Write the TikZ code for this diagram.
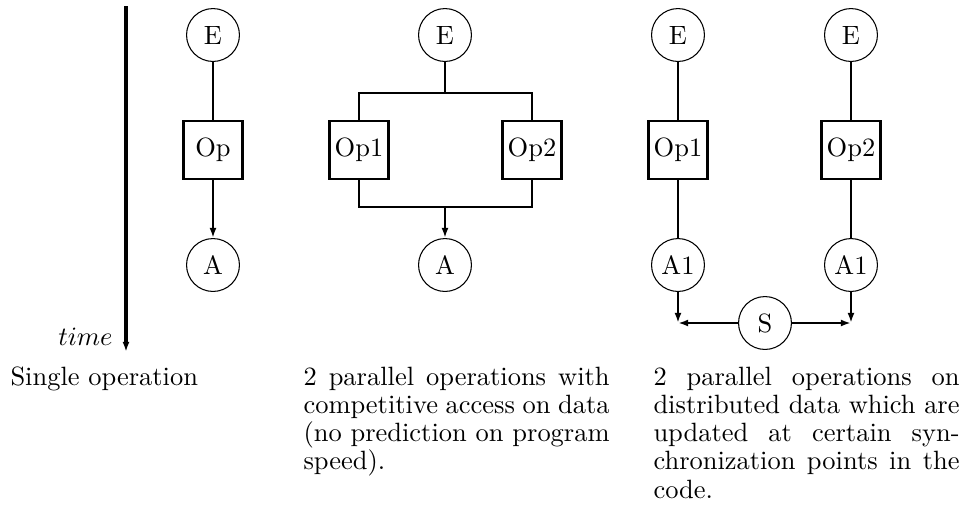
\documentclass[tikz,border=0pt]{standalone}
\usepackage{amssymb,amsmath}
\usepackage{tikz}
\usetikzlibrary{arrows.meta}

\begin{document}
\begin{tikzpicture}[x=0.378pt,y=-0.378pt]
\tikzset{>={Latex[width=2.6pt,length=3.8pt]}}
\tikzstyle{state} =[circle, draw, thin, minimum size=20pt, inner sep=0pt]
\tikzstyle{oper} =[rectangle, draw, line width=1pt, minimum width=22.5pt, minimum height=22pt, inner sep=0.5pt]
\tikzstyle{wire} =[line width=1pt]
\tikzstyle{caption} =[anchor=base west, inner sep=0pt, text width=115.7pt, align=justify, font=\fontsize{10}{10.7}\selectfont]

\useasboundingbox (0,0) rectangle (964,518);

% time axis
\coordinate (t0) at (126,6);
\coordinate (t1) at (126,352);
\draw [->,line width=1.3pt] (t0) -- (t1);
\node[anchor=base east,inner sep=0pt](tlab) at (113,345){$time$};

% single operation
\node[state](e1) at (213,35){E};
\node[oper](op) at (213,150){Op};
\node[state](a1) at (213,265){A};
\draw [wire] (e1) -- (op);
\draw [->,wire] (op) -- (a1);

% competitive access
\node[state](e2) at (445,35){E};
\node[oper](op21) at (359,150){Op1};
\node[oper](op22) at (532,150){Op2};
\node[state](a2) at (445,265){A};
\coordinate (p2tl) at (359,93);
\coordinate (p2tr) at (532,93);
\coordinate (p2bl) at (359,207);
\coordinate (p2br) at (532,207);
\draw [wire] (e2) -- (e2 |- p2tl);
\draw [wire] (op21) -- (p2tl) -- (p2tr) -- (op22);
\draw [wire] (op21) -- (p2bl) -- (p2br) -- (op22);
\draw [->,wire] (a2 |- p2bl) -- (a2);

% distributed data
\node[state](e31) at (678,35){E};
\node[state](e32) at (851,35){E};
\node[oper](op31) at (678,150){Op1};
\node[oper](op32) at (851,150){Op2};
\node[state](a31) at (678,265){A1};
\node[state](a32) at (851,265){A1};
\node[state](s) at (765,323){S};
\coordinate (c31) at (678,323);
\coordinate (c32) at (851,323);
\draw [wire] (e31) -- (op31) -- (a31);
\draw [wire] (e32) -- (op32) -- (a32);
\draw [->,wire] (a31) -- (c31);
\draw [->,wire] (a32) -- (c32);
\draw [->,wire] (s) -- (c31);
\draw [->,wire] (s) -- (c32);

% captions
\node[anchor=base west,inner sep=0pt](cap1) at (10,385){Single operation};
\node[caption](cap2) at (303,385){2 parallel operations with competitive access on data (no prediction on program speed).};
\node[caption](cap3) at (653,385){2 parallel operations on distributed data which are updated at certain synchronization points in the code.};
\end{tikzpicture}
\end{document}
